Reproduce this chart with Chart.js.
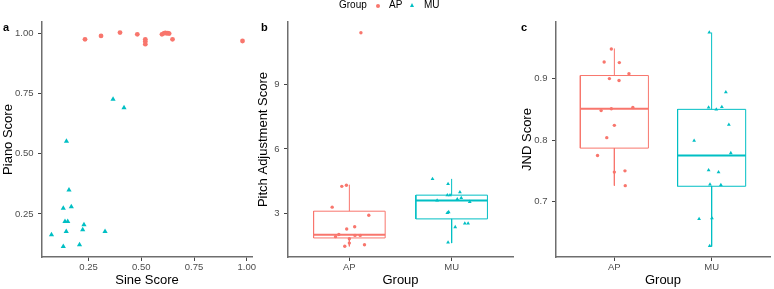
<!DOCTYPE html>
<html>
<head>
<meta charset="utf-8">
<script src="https://cdn.jsdelivr.net/npm/chart.js@4.4.1/dist/chart.umd.min.js"></script>
<style>
  body { margin: 0; background: #fff; font-family: "Liberation Sans", Arial, sans-serif; }
  #wrap { position: relative; width: 774px; height: 289px; overflow: hidden; }
  #wrap canvas { position: absolute; left: 0; top: 0; }
  .tag { position: absolute; top: 21px; font-size: 11px; font-weight: bold; line-height: 13px; }
  .leg { position: absolute; top: -1px; font-size: 10px; line-height: 12px; color: #000; }
  .dot { position: absolute; top: 4px; width: 4px; height: 4px; border-radius: 50%; background: #F8766D; }
  .tri { position: absolute; top: 3px; width: 0; height: 0; border-left: 2.3px solid transparent; border-right: 2.3px solid transparent; border-bottom: 4px solid #00BFC4; }
</style>
</head>
<body>
<div id="wrap">
  <canvas id="chartA" width="774" height="289"></canvas>
  <canvas id="chartB" width="774" height="289"></canvas>
  <canvas id="chartC" width="774" height="289"></canvas>
  <div class="tag" style="left:3px">a</div>
  <div class="tag" style="left:261px">b</div>
  <div class="tag" style="left:521px">c</div>
  <div class="leg" style="left:339px">Group</div>
  <div class="dot" style="left:376px"></div>
  <div class="leg" style="left:389px">AP</div>
  <div class="tri" style="left:409.5px"></div>
  <div class="leg" style="left:424px">MU</div>
</div>
<script>
const groups = ['AP', 'MU'];

// panel a: sine vs piano score
const sineAP = [0.233, 0.309, 0.399, 0.481, 0.519, 0.519, 0.519, 0.598, 0.607, 0.614, 0.620, 0.626, 0.632, 0.648, 0.980];
const pianoAP = [0.975, 0.989, 1.003, 0.996, 0.975, 0.966, 0.955, 0.996, 1.000, 1.002, 1.000, 1.001, 0.999, 0.975, 0.968];
const sineMU = [0.366, 0.418, 0.145, 0.157, 0.130, 0.168, 0.138, 0.151, 0.228, 0.222, 0.144, 0.328, 0.074, 0.130, 0.207];
const pianoMU = [0.726, 0.691, 0.552, 0.349, 0.273, 0.280, 0.218, 0.218, 0.205, 0.184, 0.177, 0.177, 0.163, 0.115, 0.122];

// panel b: pitch adjustment score (jitter = horizontal offset)
const pitchAP = [4.25, 4.30, 3.28, 2.90, 2.36, 2.26, 2.00, 1.90, 1.80, 1.96, 1.96, 1.60, 1.45, 1.52, 11.43];
const pitchJitAP = [-0.074, -0.029, -0.168, 0.19, 0.052, -0.026, -0.103, -0.135, 0, 0.055, 0.106, 0, -0.045, 0.148, 0.113];
const pitchMU = [4.60, 4.36, 3.98, 3.84, 3.84, 3.71, 3.65, 3.59, 3.53, 3.01, 3.05, 2.35, 2.52, 2.52, 1.63];
const pitchJitMU = [-0.187, -0.035, 0.081, -0.042, -0.016, 0.094, 0.055, -0.142, 0.177, -0.042, -0.029, 0.035, 0.129, 0.161, -0.035];
// [lower whisker, q1, median, q3, upper whisker]
const pitchBoxAP = [1.45, 1.84, 1.99, 3.09, 4.33];
const pitchBoxMU = [1.60, 2.73, 3.59, 3.84, 4.60];

// panel c: JND score
const jndAP = [0.948, 0.927, 0.926, 0.908, 0.900, 0.897, 0.853, 0.851, 0.848, 0.824, 0.804, 0.775, 0.748, 0.750, 0.726];
const jndJitAP = [-0.031, -0.105, 0.051, 0.150, -0.051, 0.048, 0.19, -0.031, -0.136, 0, -0.078, -0.173, 0, 0.109, 0.112];
const jndMU = [0.975, 0.878, 0.853, 0.850, 0.854, 0.825, 0.799, 0.779, 0.751, 0.748, 0.728, 0.727, 0.672, 0.673, 0.628];
const jndJitMU = [-0.024, 0.146, -0.031, 0.048, 0.105, 0.177, -0.180, 0.197, -0.031, 0.071, -0.017, 0.095, -0.129, 0.003, -0.020];
const jndBoxAP = [0.726, 0.787, 0.851, 0.905, 0.949];
const jndBoxMU = [0.627, 0.725, 0.775, 0.850, 0.975];

const pianoTicks = [0.25, 0.5, 0.75, 1.0];
const sineTicks = [0.25, 0.5, 0.75, 1.0];
const pitchTicks = [3, 6, 9];
const jndTicks = [0.7, 0.8, 0.9];

const AP_COL = '#F8766D';
const MU_COL = '#00BFC4';
const BOX_HALF = 0.35;
const family = '"Liberation Sans", Arial, sans-serif';

const pts = (xs, ys) => xs.map((x, i) => ({ x, y: ys[i] }));
const jit = (pos, offs, ys) => offs.map((o, i) => ({ x: pos + o, y: ys[i] }));

function pointSet(data, color, style, r) {
  return {
    type: 'scatter', data, pointStyle: style, pointRadius: r,
    backgroundColor: color, borderColor: color, borderWidth: 0, showLine: false,
  };
}

function boxSets(st, pos, color) {
  const [lo, q1, med, q3, hi] = st;
  const line = (data, w) => ({
    type: 'scatter', data, showLine: true, borderColor: color, borderWidth: w,
    pointRadius: 0, tension: 0, fill: false, borderJoinStyle: 'miter',
  });
  return [
    line([{ x: pos - BOX_HALF, y: q1 }, { x: pos + BOX_HALF, y: q1 }, { x: pos + BOX_HALF, y: q3 },
          { x: pos - BOX_HALF, y: q3 }, { x: pos - BOX_HALF, y: q1 }], 1),
    line([{ x: pos - BOX_HALF, y: med }, { x: pos + BOX_HALF, y: med }], 2),
    line([{ x: pos, y: q3 }, { x: pos, y: hi }], 1),
    line([{ x: pos, y: q1 }, { x: pos, y: lo }], 1),
  ];
}

function axis(o) {
  return {
    type: 'linear', min: o.min, max: o.max,
    afterBuildTicks: s => { s.ticks = o.ticks.map(v => ({ value: v })); },
    afterFit: s => { if (o.w) s.width = o.w; if (o.h) s.height = o.h; },
    grid: { display: true, drawOnChartArea: false, drawTicks: true, tickLength: 4, tickColor: '#444', tickWidth: 1 },
    border: { display: true, color: '#6e6e6e', width: 1.5 },
    ticks: { color: '#4D4D4D', font: { size: 9.5, family }, padding: o.pad, callback: o.fmt, autoSkip: false, maxRotation: 0 },
    title: { display: true, text: o.title, color: '#000', font: { size: 13, family }, padding: o.tpad },
  };
}

function makeChart(id, datasets, xs, ys, padL, padR) {
  return new Chart(document.getElementById(id), {
    type: 'scatter',
    data: { datasets },
    options: {
      responsive: false, animation: false, devicePixelRatio: 1,
      layout: { padding: { left: padL, right: padR, top: 22, bottom: 0 } },
      plugins: { legend: { display: false }, tooltip: { enabled: false } },
      scales: { x: xs, y: ys },
    },
  });
}

const catFmt = v => groups[Math.round(v) - 1] || '';

makeChart('chartA', [
  pointSet(pts(sineAP, pianoAP), AP_COL, 'circle', 2.4),
  pointSet(pts(sineMU, pianoMU), MU_COL, 'triangle', 3),
],
  axis({ min: 0.029, max: 1.025, ticks: sineTicks, fmt: v => v.toFixed(2), h: 32, pad: 1, title: 'Sine Score', tpad: { top: 0, bottom: 1 } }),
  axis({ min: 0.071, max: 1.047, ticks: pianoTicks, fmt: v => v.toFixed(2), w: 42, pad: 4.5, title: 'Piano Score', tpad: { top: 1, bottom: 0 } }),
  0, 774 - 252);

makeChart('chartB', [
  pointSet(jit(1, pitchJitAP, pitchAP), AP_COL, 'circle', 1.7),
  pointSet(jit(2, pitchJitMU, pitchMU), MU_COL, 'triangle', 2.2),
  ...boxSets(pitchBoxAP, 1, AP_COL),
  ...boxSets(pitchBoxMU, 2, MU_COL),
],
  axis({ min: 0.4, max: 2.6, ticks: [1, 2], fmt: catFmt, h: 32, pad: 1, title: 'Group', tpad: { top: 0, bottom: 1 } }),
  axis({ min: 0.95, max: 11.93, ticks: pitchTicks, fmt: v => String(v), w: 32, pad: 4.5, title: 'Pitch Adjustment Score', tpad: { top: 0, bottom: 0 } }),
  256, 774 - 513);

makeChart('chartC', [
  pointSet(jit(1, jndJitAP, jndAP), AP_COL, 'circle', 1.7),
  pointSet(jit(2, jndJitMU, jndMU), MU_COL, 'triangle', 2.2),
  ...boxSets(jndBoxAP, 1, AP_COL),
  ...boxSets(jndBoxMU, 2, MU_COL),
],
  axis({ min: 0.4, max: 2.6, ticks: [1, 2], fmt: catFmt, h: 32, pad: 1, title: 'Group', tpad: { top: 0, bottom: 1 } }),
  axis({ min: 0.610, max: 0.992, ticks: jndTicks, fmt: v => v.toFixed(1), w: 42, pad: 4.5, title: 'JND Score', tpad: { top: 6, bottom: 0 } }),
  514, 1);
</script>
</body>
</html>
